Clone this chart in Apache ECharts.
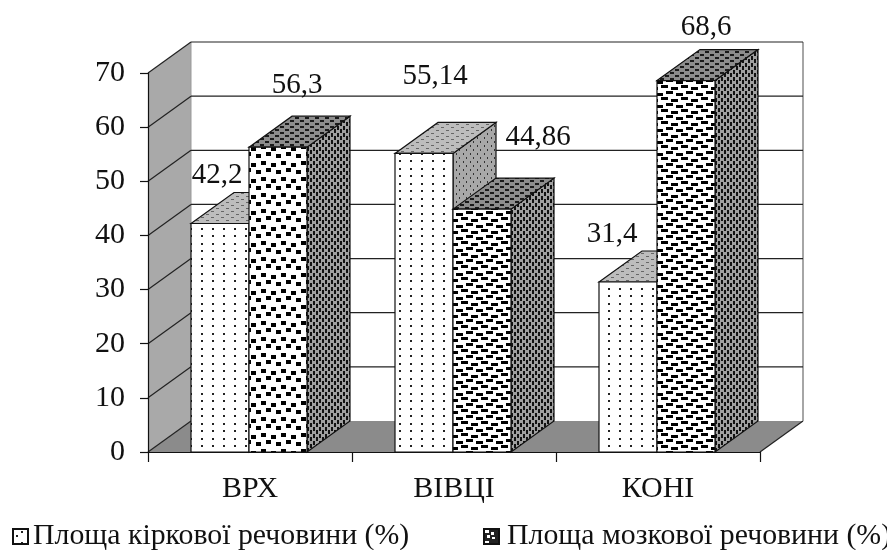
<!DOCTYPE html>
<html><head><meta charset="utf-8">
<style>html,body{margin:0;padding:0;background:#fff}#c{width:887px;height:550px}</style>
<script src="https://cdn.jsdelivr.net/npm/echarts@6/dist/echarts.min.js"></script>
</head><body><div id="c"></div>
<script>
const categories = ['ВРХ', 'ВІВЦІ', 'КОНІ'];
const cortexName = 'Площа кіркової речовини (%)';
const medullaName = 'Площа мозкової речовини (%)';
const cortexValues = [42.2, 55.14, 31.4];
const medullaValues = [56.3, 44.86, 68.6];
const yTicks = [0, 10, 20, 30, 40, 50, 60, 70];

const FONT = '"Liberation Serif","Times New Roman",serif';
const DX = 43, DY = -31;
const BAR_W = 58;
const cortexLabelLift = [17, 46, 17];
const medullaLabelLift = [31, 41, 22];
const cortexLabelShift = [-3, 11, -16];
const medullaLabelShift = [19, 56, 20];

function tile(w, h, bg, ink, marks) {
  const c = document.createElement('canvas');
  c.width = w; c.height = h;
  const g = c.getContext('2d');
  g.fillStyle = bg; g.fillRect(0, 0, w, h);
  g.fillStyle = ink;
  marks.forEach(m => g.fillRect(m[0], m[1], m[2], m[3]));
  return { image: c, repeat: 'repeat' };
}
const blockSquare = tile(20, 16, '#ffffff', '#000', [[1,1,5,4],[11,3,5,4],[6,8,5,4],[16,10,4,4],[0,10,1,4]]);
const blockFlat = tile(20, 12, '#ffffff', '#000', [[1,1,7,3],[11,3,7,3],[6,7,7,3],[16,9,4,3],[0,9,3,3]]);
const P = {
  dotFront: tile(11, 15, '#ffffff', '#222', [[3,3,2,2],[3,10,2,2]]),
  dotTop: tile(10, 6, '#bdbdbd', '#666', [[1,1,3,1],[6,4,3,1]]),
  dotSide: tile(7, 8, '#a8a8a8', '#333', [[1,1,1,2],[4,5,1,2]]),
  blockTop: tile(10, 6, '#8d8d8d', '#1a1a1a', [[0,0,4,2],[5,3,4,2]]),
  blockSide: tile(6, 7, '#a0a0a0', '#111', [[1,0,2,4],[4,3,2,4]]),
  legendA: tile(13, 11, '#ffffff', '#222', [[8,2,2,2],[3,6,2,2]]),
  legendB: tile(13, 11, '#222222', '#ffffff', [[1,1,4,3],[7,3,3,3],[3,6,3,3],[8,8,3,2]])
};
const cortexFronts = [P.dotFront, P.dotFront, P.dotFront];
const medullaFronts = [blockSquare, blockFlat, blockFlat];

function barItem(pats, fronts, values, side, lifts, shifts) {
  return function (params, api) {
    const i = api.value(0), v = api.value(1);
    const c = api.coord([i, v]), b = api.coord([i, 0]);
    const x0 = side < 0 ? c[0] - 1 - BAR_W : c[0] - 1;
    const x1 = x0 + BAR_W, yt = c[1], yb = b[1];
    const ln = { stroke: '#111', lineWidth: 1.2 };
    const poly = (points, fill) => ({ type: 'polygon', shape: { points }, style: Object.assign({ fill }, ln) });
    return { type: 'group', children: [
      poly([[x1,yb],[x1+DX,yb+DY],[x1+DX,yt+DY],[x1,yt]], pats.side),
      poly([[x0,yt],[x0+DX,yt+DY],[x1+DX,yt+DY],[x1,yt]], pats.top),
      poly([[x0,yb],[x0,yt],[x1,yt],[x1,yb]], fronts[i]),
      { type: 'text', z2: 50, style: {
        x: x0 + BAR_W / 2 + shifts[i], y: yt + DY - lifts[i],
        text: String(values[i]).replace('.', ','),
        font: '29px ' + FONT, fill: '#111', align: 'center', verticalAlign: 'middle' } }
    ] };
  };
}

function wallItem(params, api) {
  const v = api.value(0), cs = params.coordSys;
  const L = cs.x, R = cs.x + cs.width;
  const y = api.coord([0, v])[1];
  const kids = [];
  if (v === 0) {
    const top = api.coord([0, yTicks[yTicks.length - 1]])[1];
    kids.push(
      { type: 'polygon', shape: { points: [[L,y],[L,top],[L+DX,top+DY],[L+DX,y+DY]] }, style: { fill: '#a9a9a9' } },
      { type: 'polygon', shape: { points: [[L,y],[L+DX,y+DY],[R+DX,y+DY],[R,y]] }, style: { fill: '#8b8b8b' } },
      { type: 'line', shape: { x1: R, y1: y, x2: R+DX, y2: y+DY }, style: { stroke: '#222', lineWidth: 1.2 } },
      { type: 'line', shape: { x1: R+DX, y1: y+DY, x2: R+DX, y2: top+DY }, style: { stroke: '#888', lineWidth: 1.5 } },
      { type: 'line', shape: { x1: L+DX, y1: y+DY, x2: L+DX, y2: top+DY }, style: { stroke: '#999', lineWidth: 1 } }
    );
  }
  kids.push({ type: 'line', shape: { x1: L, y1: y, x2: L+DX, y2: y+DY }, style: { stroke: '#222', lineWidth: 1.2 } });
  if (v !== 0) kids.push({ type: 'line', shape: { x1: L+DX, y1: y+DY, x2: R+DX, y2: y+DY }, style: { stroke: '#222', lineWidth: 1.2 } });
  return { type: 'group', children: kids };
}

function legendEntry(xIcon, xText, fill, name) {
  return [
    { type: 'rect', x: xIcon, y: 529, shape: { width: 15, height: 15 },
      style: { fill, stroke: '#111', lineWidth: 2 } },
    { type: 'text', x: xText, y: 536,
      style: { text: name, font: '29.8px ' + FONT, fill: '#111', align: 'left', verticalAlign: 'middle' } }
  ];
}

const chart = echarts.init(document.getElementById('c'), null, { renderer: 'canvas' });
chart.setOption({
  animation: false,
  backgroundColor: '#fff',
  grid: { left: 148, right: 127, top: 73, bottom: 98 },
  xAxis: { type: 'category', data: categories, z: 10,
    axisLine: { lineStyle: { color: '#111', width: 1.2 } },
    axisTick: { show: true, length: 10, lineStyle: { color: '#111', width: 1.2 } },
    axisLabel: { color: '#111', fontFamily: FONT, fontSize: 30, margin: 22 } },
  yAxis: { type: 'value', min: 0, max: 70, interval: 10, z: 10,
    axisLine: { show: true, lineStyle: { color: '#111', width: 1.2 } },
    axisTick: { show: true, length: 8, lineStyle: { color: '#111', width: 1.2 } },
    splitLine: { show: false },
    axisLabel: { color: '#111', fontFamily: FONT, fontSize: 30, margin: 23, padding: [5, 0, 0, 0] } },
  graphic: { elements: [
    ...legendEntry(13, 33, P.legendA, cortexName),
    ...legendEntry(484, 507, P.legendB, medullaName)
  ] },
  series: [
    { type: 'custom', silent: true, z: 1, renderItem: wallItem, encode: { y: 0 }, data: yTicks.map(t => [t]) },
    { type: 'custom', silent: true, name: cortexName, z: 2, encode: { x: 0, y: 1 },
      renderItem: barItem({ top: P.dotTop, side: P.dotSide }, cortexFronts, cortexValues, -1, cortexLabelLift, cortexLabelShift),
      data: cortexValues.map((v, i) => [i, v]) },
    { type: 'custom', silent: true, name: medullaName, z: 3, encode: { x: 0, y: 1 },
      renderItem: barItem({ top: P.blockTop, side: P.blockSide }, medullaFronts, medullaValues, 1, medullaLabelLift, medullaLabelShift),
      data: medullaValues.map((v, i) => [i, v]) }
  ]
});
</script></body></html>
